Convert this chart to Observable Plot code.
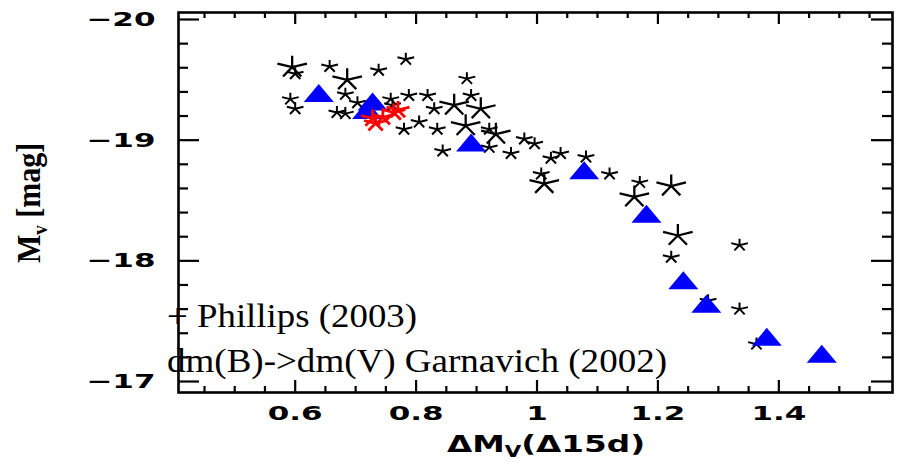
<!DOCTYPE html>
<html>
<head>
<meta charset="utf-8">
<script src="https://cdn.jsdelivr.net/npm/d3@7"></script>
<script src="https://cdn.jsdelivr.net/npm/@observablehq/plot@0.6"></script>
<style>
html, body { margin: 0; padding: 0; background: #fff; }
#chart svg { display: block; }
</style>
</head>
<body>
<div id="chart"></div>
<script>
// ---------------- data ----------------
// Phillips (2003) sample, large asterisks
const phillipsLargeX = [0.595, 0.686, 0.863, 0.907, 0.882, 0.932, 1.012, 1.222, 1.161, 1.233];
const phillipsLargeY = [-19.605, -19.50, -19.29, -19.26, -19.12, -19.05, -18.64, -18.62, -18.53, -18.21];
// Phillips (2003) sample, small asterisks
const phillipsSmallX = [0.600, 0.657, 0.738, 0.783, 0.884, 0.592, 0.600, 0.683, 0.669, 0.683,
                        0.758, 0.788, 0.819, 0.830, 0.891, 0.805, 0.780, 0.835, 0.844, 0.921,
                        0.921, 0.957, 0.979, 0.996, 1.023, 1.039, 1.007, 1.081, 1.120, 1.170,
                        1.222, 1.335, 1.283, 1.335, 1.363, 0.761, 0.703];
const phillipsSmallY = [-19.55, -19.61, -19.58, -19.67, -19.51, -19.34, -19.26, -19.38, -19.23, -19.22,
                        -19.34, -19.37, -19.37, -19.26, -19.37, -19.15, -19.09, -19.09, -18.91, -19.09,
                        -18.94, -18.89, -19.01, -18.97, -18.85, -18.89, -18.72, -18.86, -18.72, -18.65,
                        -18.03, -18.13, -17.67, -17.60, -17.31, -19.29, -19.31];
// red asterisks
const redX = [0.728, 0.733, 0.745, 0.763, 0.770];
const redY = [-19.18, -19.14, -19.19, -19.23, -19.25];
// blue triangles (Garnavich 2002, dm(B)->dm(V))
const garnavichX = [0.639, 0.728, 0.719, 0.891, 1.078, 1.181, 1.242, 1.280, 1.380, 1.471];
const garnavichY = [-19.39, -19.32, -19.25, -18.98, -18.75, -18.39, -17.84, -17.645, -17.37, -17.23];

// ticks and labels
const xMajorTicks = [0.6, 0.8, 1.0, 1.2, 1.4];
const xTickLabels = ["0.6", "0.8", "1", "1.2", "1.4"];
const xMinorTicks = [0.45, 0.5, 0.55, 0.65, 0.7, 0.75, 0.85, 0.9, 0.95, 1.05, 1.1, 1.15, 1.25, 1.3, 1.35, 1.45, 1.5, 1.55];
const yMajorTicks = [-20, -19, -18, -17];
const yTickLabels = ["\u221220", "\u221219", "\u221218", "\u221217"];
const yMinorTicks = [-19.8, -19.6, -19.4, -19.2, -18.8, -18.6, -18.4, -18.2, -17.8, -17.6, -17.4, -17.2];
const xLabelMain = "\u0394M", xLabelSub = "V", xLabelTail = "(\u039415d)";
const yLabelMain = "M", yLabelSub = "v", yLabelTail = " [mag]";
const legendLines = ["+ Phillips (2003)", "dm(B)->dm(V) Garnavich (2002)"];

// ---------------- layout ----------------
const W = 897, H = 463, ML = 178, MR = 5, MT = 12, MB = 71;
const FW = W - ML - MR, FH = H - MT - MB;
const XMAJ = 12, XMIN = 6, YMAJ = 21, YMIN = 10;

const toPts = (xs, ys) => xs.map((x, i) => ({x, y: ys[i]}));
const phLarge = toPts(phillipsLargeX, phillipsLargeY);
const phSmall = toPts(phillipsSmallX, phillipsSmallY);
const red = toPts(redX, redY);
const garn = toPts(garnavichX, garnavichY);

// 5-armed asterisk, slightly stretched horizontally like the reference
const star5 = {
  draw(ctx, size) {
    const r = Math.sqrt(size / Math.PI);
    for (let k = 0; k < 5; k++) {
      const a = -Math.PI / 2 + k * 2 * Math.PI / 5;
      ctx.moveTo(0, 0);
      ctx.lineTo(1.35 * r * Math.cos(a), r * Math.sin(a));
    }
  }
};
const tri = {
  draw(ctx, size) {
    const r = Math.sqrt(size / Math.PI);
    ctx.moveTo(0, -r);
    ctx.lineTo(1.67 * r, r);
    ctx.lineTo(-1.67 * r, r);
    ctx.closePath();
  }
};

const tickStyle = {stroke: "black", strokeWidth: 2.2};

const plot = Plot.plot({
  width: W, height: H,
  marginLeft: ML, marginRight: MR, marginTop: MT, marginBottom: MB,
  x: {domain: [0.407, 1.588]},
  y: {domain: [-20.058, -16.909], reverse: true},
  style: {background: "white", fontFamily: "DejaVu Sans", fontWeight: "bold", fontSize: "20px", color: "black"},
  marks: [
    // inward ticks on all four sides
    Plot.tickX(xMajorTicks, {x: d => d, insetTop: FH - XMAJ, ...tickStyle}),
    Plot.tickX(xMinorTicks, {x: d => d, insetTop: FH - XMIN, ...tickStyle}),
    Plot.tickX(xMajorTicks, {x: d => d, insetBottom: FH - XMAJ, ...tickStyle}),
    Plot.tickX(xMinorTicks, {x: d => d, insetBottom: FH - XMIN, ...tickStyle}),
    Plot.tickY(yMajorTicks, {y: d => d, insetRight: FW - YMAJ, ...tickStyle}),
    Plot.tickY(yMinorTicks, {y: d => d, insetRight: FW - YMIN, ...tickStyle}),
    Plot.tickY(yMajorTicks, {y: d => d, insetLeft: FW - YMAJ, ...tickStyle}),
    Plot.tickY(yMinorTicks, {y: d => d, insetLeft: FW - YMIN, ...tickStyle}),
    // tick labels
    Plot.axisX(xMajorTicks, {anchor: "bottom", tickSize: 0, tickPadding: 13, label: null,
      tickFormat: d => xTickLabels[xMajorTicks.indexOf(d)], fontSize: 20, fontWeight: "bold", fontFamily: "DejaVu Sans"}),
    Plot.axisY(yMajorTicks, {anchor: "left", tickSize: 0, tickPadding: 23, label: null,
      tickFormat: d => yTickLabels[yMajorTicks.indexOf(d)], fontSize: 20, fontWeight: "bold", fontFamily: "DejaVu Sans"}),
    // data
    Plot.dot(phSmall, {x: "x", y: "y", symbol: star5, r: 6.5, fill: "none", stroke: "black", strokeWidth: 2}),
    Plot.dot(phLarge, {x: "x", y: "y", symbol: star5, r: 11.5, fill: "none", stroke: "black", strokeWidth: 2.3}),
    Plot.dot(garn, {x: "x", y: "y", symbol: tri, r: 9, fill: "#0000ff", stroke: "none"}),
    Plot.dot(red, {x: "x", y: "y", symbol: star5, r: 9, fill: "none", stroke: "#ff0000", strokeWidth: 2.8}),
    // legend text
    Plot.text([legendLines[0]], {text: d => d, frameAnchor: "bottom-left", textAnchor: "start", lineAnchor: "bottom",
      dx: -11.5, dy: -65.5, fontFamily: "Liberation Serif", fontWeight: "normal", fontSize: 34, fill: "black"}),
    Plot.text([legendLines[1]], {text: d => d, frameAnchor: "bottom-left", textAnchor: "start", lineAnchor: "bottom",
      dx: -11.5, dy: -20.5, fontFamily: "Liberation Serif", fontWeight: "normal", fontSize: 34, fill: "black"}),
    Plot.frame({stroke: "black", strokeWidth: 2.6})
  ]
});

document.getElementById("chart").appendChild(plot);
const svg = d3.select(plot);

// horizontally stretched tick labels (as in the reference)
svg.selectAll('g[aria-label$="tick label"] text').each(function () {
  const t = this.getAttribute("transform");
  if (t) this.setAttribute("transform", t + " scale(1.55,1)");
  else {
    const x = +this.getAttribute("x") || 0, y = +this.getAttribute("y") || 0;
    this.removeAttribute("x"); this.removeAttribute("y");
    this.setAttribute("transform", `translate(${x},${y}) scale(1.55,1)`);
  }
});

// legend: fit widths
svg.selectAll("text").each(function () {
  if (this.textContent === legendLines[0]) this.setAttribute("textLength", 250);
  if (this.textContent === legendLines[1]) this.setAttribute("textLength", 500);
  if (this.textContent === legendLines[0] || this.textContent === legendLines[1]) this.setAttribute("lengthAdjust", "spacingAndGlyphs");
});

// x-axis label
const xl = svg.append("text")
  .attr("transform", `translate(${(ML + W - MR) / 2 + 11},452) scale(1.42,1)`)
  .attr("text-anchor", "middle")
  .attr("font-family", "DejaVu Sans").attr("font-weight", "bold").attr("font-size", 23).attr("fill", "black");
xl.append("tspan").text(xLabelMain);
xl.append("tspan").attr("font-size", 15).attr("dy", 5).text(xLabelSub);
xl.append("tspan").attr("dy", -5).text(xLabelTail);

// y-axis label
const yl = svg.append("text")
  .attr("transform", `translate(40,${MT + 191}) rotate(-90) scale(1,1.15)`)
  .attr("text-anchor", "middle")
  .attr("font-family", "Liberation Serif").attr("font-weight", "bold").attr("font-size", 30).attr("fill", "black");
yl.append("tspan").text(yLabelMain);
yl.append("tspan").attr("font-size", 19).attr("dy", 6).text(yLabelSub);
yl.append("tspan").attr("dy", -6).text(yLabelTail);
</script>
</body>
</html>
